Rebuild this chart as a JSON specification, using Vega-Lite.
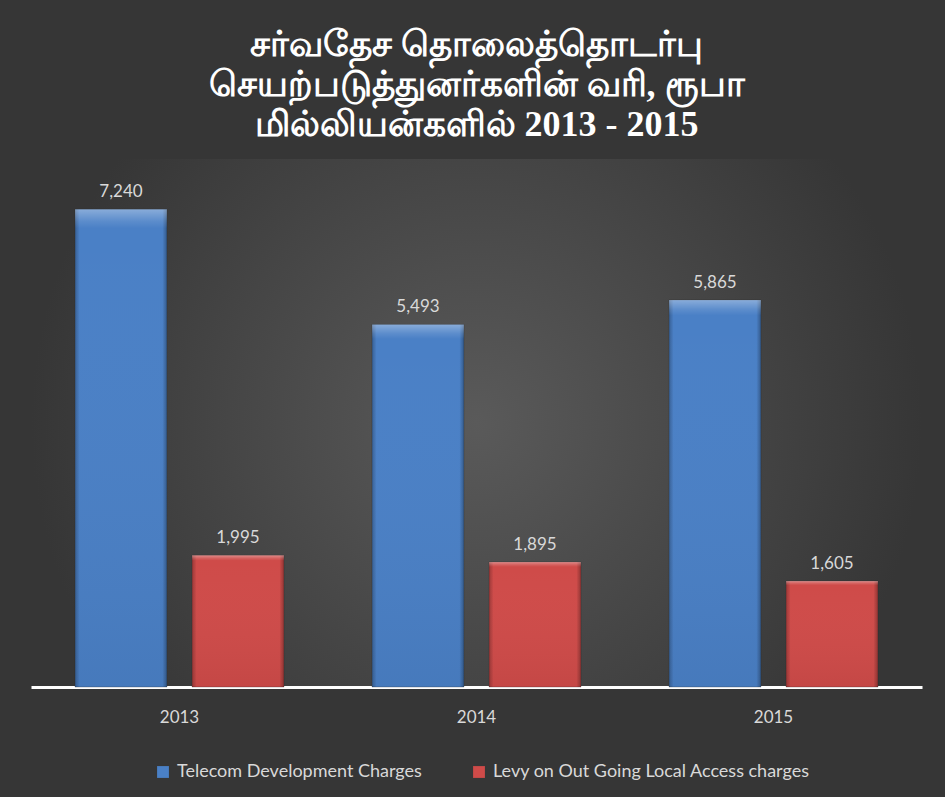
{
  "$schema": "https://vega.github.io/schema/vega-lite/v6.json",
  "autosize": "none",
  "width": 891,
  "height": 528,
  "padding": {"left": 31, "top": 159, "right": 23, "bottom": 110},
  "background": "#363636",
  "title": {
    "text": ["சர்வதேச தொலைத்தொடர்பு", "செயற்படுத்துனர்களின் வரி, ரூபா", "மில்லியன்களில்  2013  -  2015"],
    "color": "#ffffff",
    "font": "Liberation Serif",
    "fontSize": 36,
    "fontWeight": "bold",
    "lineHeight": 40,
    "anchor": "middle",
    "offset": 15
  },
  "config": {
    "view": {
      "stroke": null,
      "fill": {
        "gradient": "radial",
        "x1": 0.5, "y1": 0.5, "r1": 0,
        "x2": 0.5, "y2": 0.5, "r2": 0.5,
        "stops": [
          {"offset": 0, "color": "#5a5a5a"},
          {"offset": 1, "color": "#363636"}
        ]
      }
    },
    "font": "Lato"
  },
  "data": {
    "values": [
      {"year": "2013", "series": "Telecom Development Charges", "value": 7240},
      {"year": "2013", "series": "Levy on Out Going Local Access charges", "value": 1995},
      {"year": "2014", "series": "Telecom Development Charges", "value": 5493},
      {"year": "2014", "series": "Levy on Out Going Local Access charges", "value": 1895},
      {"year": "2015", "series": "Telecom Development Charges", "value": 5865},
      {"year": "2015", "series": "Levy on Out Going Local Access charges", "value": 1605}
    ]
  },
  "encoding": {
    "x": {
      "field": "year",
      "type": "nominal",
      "scale": {"paddingInner": 0, "paddingOuter": 0},
      "axis": {
        "title": null,
        "labelAngle": 0,
        "labelColor": "#d9d9d9",
        "labelFontSize": 17,
        "labelPadding": 22,
        "ticks": false,
        "domainColor": "#ffffff",
        "domainWidth": 3
      }
    },
    "xOffset": {
      "field": "series",
      "type": "nominal",
      "scale": {
        "domain": ["Telecom Development Charges", "Levy on Out Going Local Access charges"],
        "paddingInner": 0.214,
        "paddingOuter": 0.376
      }
    },
    "y": {
      "field": "value",
      "type": "quantitative",
      "scale": {"domain": [0, 8000], "nice": false},
      "axis": null
    }
  },
  "layer": [
    {
      "mark": {"type": "bar", "stroke": "#2a2a2a", "strokeWidth": 0.5, "strokeOpacity": 0.6},
      "encoding": {
        "color": {
          "field": "series",
          "type": "nominal",
          "scale": {
            "domain": ["Telecom Development Charges", "Levy on Out Going Local Access charges"],
            "range": ["#4a80c6", "#cf4b49"]
          },
          "legend": {
            "title": null,
            "orient": "none",
            "legendX": 123,
            "legendY": 604,
            "direction": "horizontal",
            "symbolType": "square",
            "symbolSize": 140,
            "symbolStrokeWidth": 0,
            "labelColor": "#d9d9d9",
            "labelFontSize": 18,
            "labelLimit": 0,
            "labelOffset": 5,
            "columnPadding": 48
          }
        }
      }
    },
    {
      "mark": {
        "type": "bar",
        "fill": {
          "gradient": "linear",
          "x1": 0, "y1": 0, "x2": 1, "y2": 0,
          "stops": [
            {"offset": 0, "color": "rgba(0,0,0,0.25)"},
            {"offset": 0.05, "color": "rgba(0,0,0,0)"},
            {"offset": 0.95, "color": "rgba(0,0,0,0)"},
            {"offset": 1, "color": "rgba(0,0,0,0.3)"}
          ]
        }
      },
      "encoding": {}
    },
    {
      "mark": {
        "type": "bar",
        "fill": {
          "gradient": "linear",
          "x1": 0, "y1": 0, "x2": 0, "y2": 1,
          "stops": [
            {"offset": 0, "color": "rgba(255,255,255,0.35)"},
            {"offset": 0.025, "color": "rgba(255,255,255,0.1)"},
            {"offset": 0.04, "color": "rgba(255,255,255,0)"},
            {"offset": 1, "color": "rgba(0,0,0,0.05)"}
          ]
        }
      },
      "encoding": {}
    },
    {
      "mark": {"type": "text", "dy": -12, "baseline": "alphabetic", "fontSize": 17, "color": "#d9d9d9"},
      "encoding": {
        "text": {"field": "value", "type": "quantitative", "format": ","}
      }
    }
  ]
}
